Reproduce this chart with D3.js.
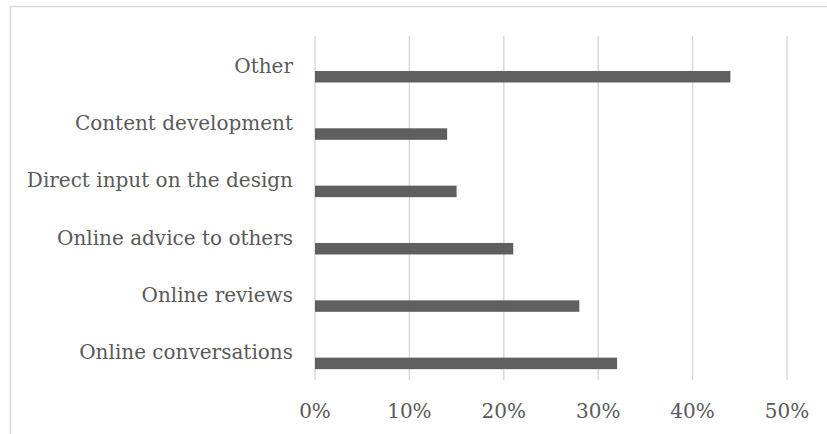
<!DOCTYPE html>
<html>
<head>
<meta charset="utf-8">
<script src="https://cdn.jsdelivr.net/npm/d3@7"></script>
<style>
  body { margin: 0; background: #fff; }
  svg text { font-family: "DejaVu Serif", serif; fill: #595959; }
</style>
</head>
<body>
<svg id="chart"></svg>
<script>
// categories top to bottom, as they appear
var categories = ["Other", "Content development", "Direct input on the design",
                  "Online advice to others", "Online reviews", "Online conversations"];
var values = [0.44, 0.14, 0.15, 0.21, 0.28, 0.32];
var ticks = [0, 0.1, 0.2, 0.3, 0.4, 0.5];

var W = 827, H = 434;
var svg = d3.select("#chart").attr("width", W).attr("height", H);

// chart frame
svg.append("rect")
    .attr("x", 10.5).attr("y", 6.5)
    .attr("width", 830).attr("height", 440)
    .attr("fill", "none").attr("stroke", "#d9d9d9").attr("stroke-width", 1.5);

var x = d3.scaleLinear().domain([0, 0.5]).range([315, 787]);
var y = d3.scaleBand().domain(categories).range([36, 380]);

// gridlines
svg.append("g").selectAll("line")
    .data(ticks).enter()
    .append("line")
    .attr("x1", function(d){ return x(d); })
    .attr("x2", function(d){ return x(d); })
    .attr("y1", 36).attr("y2", 380)
    .attr("stroke", "#d9d9d9").attr("stroke-width", 1.5);

// bars
svg.append("g").selectAll("rect")
    .data(values).enter()
    .append("rect")
    .attr("x", x(0))
    .attr("y", function(d, i){ return y(categories[i]) + y.bandwidth() * 0.61; })
    .attr("width", function(d){ return x(d) - x(0); })
    .attr("height", 11.5)
    .attr("fill", "#5f5f5f");

// category labels
svg.append("g").selectAll("text")
    .data(categories).enter()
    .append("text")
    .attr("x", 293)
    .attr("y", function(d){ return y(d) + y.bandwidth() / 2 + 8; })
    .attr("text-anchor", "end")
    .style("font-size", "20px")
    .text(function(d){ return d; });

// x axis labels
svg.append("g").selectAll("text")
    .data(ticks).enter()
    .append("text")
    .attr("x", function(d){ return x(d); })
    .attr("y", 418)
    .attr("text-anchor", "middle")
    .style("font-size", "20px")
    .text(d3.format(".0%"));
</script>
</body>
</html>
